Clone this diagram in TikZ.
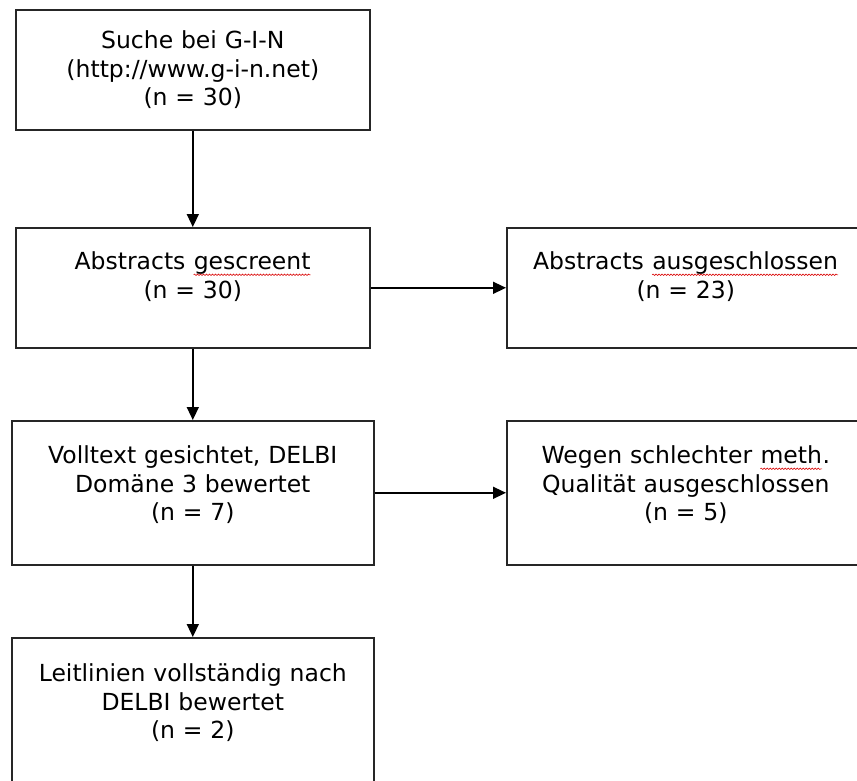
\documentclass[tikz,border=0pt]{standalone}
\usepackage{fontspec}
\setmainfont{DejaVu Sans}
\usetikzlibrary{arrows.meta,decorations.pathmorphing}

% red wavy spell-check underline
\newcommand{\spellmark}[1]{\tikz[baseline=(word.base)]{\node (word) [inner sep=0pt,text height=,text depth=,text width=,align=none,draw=none] {#1};
	\draw[red!85!black,line width=0.6pt,decorate,decoration={snake,amplitude=0.7pt,segment length=3pt}] ([yshift=-5pt]word.base west) -- ([yshift=-5pt]word.base east);}}

\begin{document}
\begin{tikzpicture}[x=1pt,y=-1pt,
	stage/.style={
		% The shape:
		rectangle,
		inner sep=0pt,
		anchor=north west,
		% The border:
		draw=black!85,
		line width=1.6pt,
		% The text:
		text width=#1,
		align=center,
		font=\fontsize{23.5}{28.5}\selectfont
		},
	stage/.default=354pt,
	flow/.style={-{Triangle[length=13pt,width=12pt]},line width=1.5pt}]

	\useasboundingbox (0,0) rectangle (857,781);
	\clip (0,0) rectangle (857,781);

	\node (search) [stage,text height=39pt,text depth=81pt] at (15,9) {Suche bei G-I-N\\(http://www.g-i-n.net)\\(n = 30)};
	\node (screened) [stage,text height=42pt,text depth=78pt] at (15,227) {Abstracts \spellmark{gescreent}\\(n = 30)};
	\node (excluded) [stage=358pt,text height=42pt,text depth=78pt] at (506,227) {Abstracts \spellmark{ausgeschlossen}\\(n = 23)};
	\node (fulltext) [stage=362pt,text height=43pt,text depth=101pt] at (11,420) {Volltext gesichtet, DELBI\\Domäne 3 bewertet\\(n = 7)};
	\node (quality) [stage=358pt,text height=43pt,text depth=101pt] at (506,420) {Wegen schlechter \spellmark{meth}.\\Qualität ausgeschlossen\\(n = 5)};
	\node (rated) [stage=362pt,text height=44pt,text depth=119pt] at (11,637) {Leitlinien vollständig nach\\DELBI bewertet\\(n = 2)};

	\path (search) edge[flow] (screened);
	\path (screened) edge[flow] (excluded);
	\path (screened) edge[flow] (fulltext);
	\path (fulltext) edge[flow] (quality);
	\path (fulltext) edge[flow] (rated);

\end{tikzpicture}
\end{document}
